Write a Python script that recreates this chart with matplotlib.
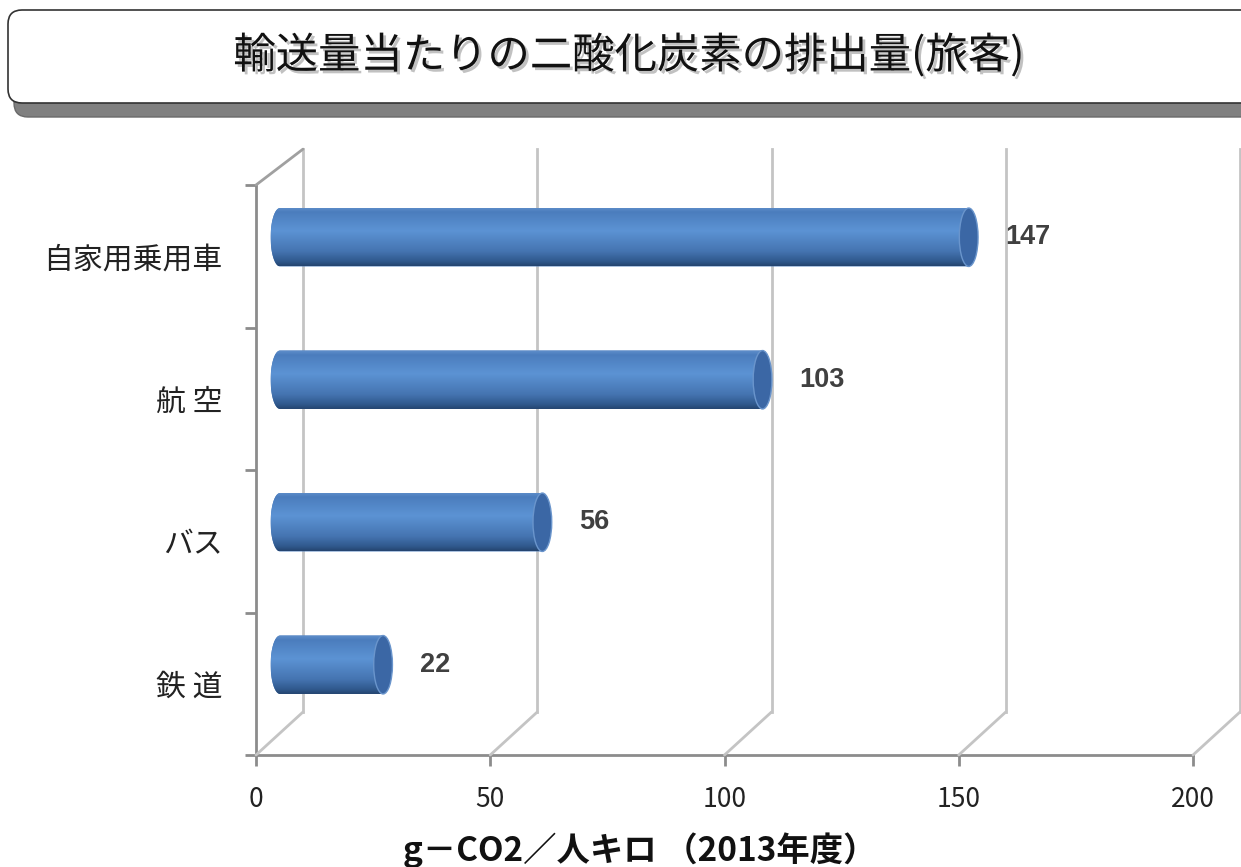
import numpy as np
import matplotlib
matplotlib.use('Agg')
import matplotlib.pyplot as plt
import matplotlib.transforms as mtransforms
import matplotlib.patheffects as pe
from matplotlib.patches import FancyBboxPatch, PathPatch, Ellipse, ConnectionPatch
from matplotlib.path import Path
from matplotlib.colors import LinearSegmentedColormap

plt.rcParams['font.family'] = ['Noto Sans CJK JP', 'DejaVu Sans']

# データ
title = '輸送量当たりの二酸化炭素の排出量(旅客)'
categories = ['自家用乗用車', '航 空', 'バス', '鉄 道']
values = [147, 103, 56, 22]
x_ticks = [0, 50, 100, 150, 200]
x_label = 'g－CO2／人キロ （2013年度）'

W, H = 1241, 867
fig = plt.figure(figsize=(W / 100, H / 100), dpi=100)
ax = fig.add_axes([256 / W, 112 / H, 937 / W, 570 / H])
ax.patch.set_visible(False)

ypos = np.arange(len(categories))[::-1]  # 先頭のカテゴリを上に

# 奥行き (疑似3D)
mid = mtransforms.offset_copy(ax.transData, fig=fig, x=24, y=19, units='dots')
back = mtransforms.offset_copy(ax.transData, fig=fig, x=47, y=43, units='dots')
lab_tr = mtransforms.offset_copy(ax.transData, fig=fig, x=61, y=19, units='dots')

# 背面の目盛線と床の斜線
grid_c = '#c4c4c4'
for xt in x_ticks:
    ax.plot([xt, xt], [-0.5, 3.45], color=grid_c, lw=2, transform=back,
            clip_on=False, zorder=1)
    fig.add_artist(ConnectionPatch((xt, -0.5), (xt, -0.5), coordsA=ax.transData,
                                   coordsB=back, color=grid_c, lw=2, zorder=1))
fig.add_artist(ConnectionPatch((0, 3.5), (0, 3.45), coordsA=ax.transData,
                               coordsB=back, color='#a0a0a0', lw=2, zorder=1))

# 円柱の棒
cyl = LinearSegmentedColormap.from_list('cyl', [
    (0, '#6190cc'), (0.08, '#4b7dbd'), (0.4, '#5c93d4'),
    (0.75, '#4574b1'), (0.92, '#30598d'), (1, '#24446f')])
grad = np.linspace(0, 1, 256).reshape(-1, 1)
bar_h = 0.41
rx = 2.0
t = np.linspace(np.pi / 2, 3 * np.pi / 2, 40)
for y, v in zip(ypos, values):
    verts = np.column_stack([rx * np.cos(t), y + bar_h / 2 * np.sin(t)])
    verts = np.vstack([verts, [[v, y - bar_h / 2], [v, y + bar_h / 2]], verts[:1]])
    body = PathPatch(Path(verts), facecolor='#4a7bbb', edgecolor='none',
                     transform=mid, zorder=3)
    ax.add_patch(body)
    im = ax.imshow(grad, cmap=cyl, extent=(-rx, v, y - bar_h / 2, y + bar_h / 2),
                   aspect='auto', transform=mid, zorder=3.1, interpolation='bilinear')
    im.set_clip_path(body)
    ax.add_patch(Ellipse((v, y), 2 * rx, bar_h, facecolor='#3b67a5', edgecolor='#6a95cc',
                         lw=1, transform=mid, zorder=3.2, clip_on=False))
    ax.text(v, y, str(v), transform=lab_tr, ha='left', va='center', fontsize=19.5,
            fontweight='bold', color='#404040', family=['Liberation Sans', 'DejaVu Sans'])

ax.set_xlim(0, 200)
ax.set_ylim(-0.5, 3.5)

# 軸
for s in ['top', 'right']:
    ax.spines[s].set_visible(False)
for s in ['left', 'bottom']:
    ax.spines[s].set_color('#8c8c8c')
    ax.spines[s].set_linewidth(2)
ax.set_xticks(x_ticks)
ax.tick_params(axis='x', length=8, width=2, color='#8c8c8c', pad=14,
               labelsize=19, labelcolor='#222222')
ax.set_yticks(ypos, categories)
ax.tick_params(axis='y', which='major', length=0, pad=24, labelsize=21.5,
               labelcolor='#222222')
ax.set_yticks(np.arange(-0.5, 4), minor=True)
ax.tick_params(axis='y', which='minor', length=8, width=2, color='#8c8c8c')

# タイトルの枠
ident = mtransforms.IdentityTransform()
fig.add_artist(FancyBboxPatch((14, H - 117), 1260, 90,
                              boxstyle='round,pad=0,rounding_size=14',
                              fc='#808080', ec='#6a6a6a', transform=ident))
fig.add_artist(FancyBboxPatch((8, H - 103), 1260, 93,
                              boxstyle='round,pad=0,rounding_size=14',
                              fc='white', ec='#333333', lw=1.2, transform=ident))
fig.text(629 / W, 1 - 56 / H, title, ha='center', va='center', fontsize=30.5,
         fontweight='normal', color='#111111',
         path_effects=[pe.SimplePatchShadow(offset=(2, -2), shadow_rgbFace='#999999',
                                            alpha=0.6), pe.Normal()])

fig.text(640 / W, 1 - 850 / H, x_label, ha='center', va='center', fontsize=24,
         fontweight='bold', color='#111111')

fig.savefig('out.png', dpi=100)
